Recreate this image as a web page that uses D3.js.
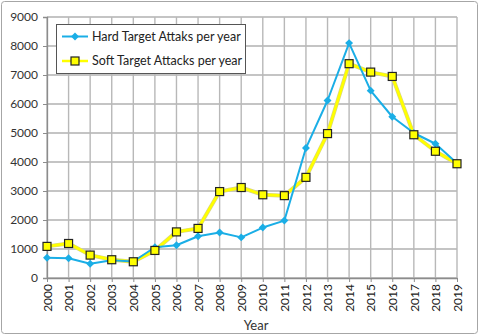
<!DOCTYPE html>
<html>
<head>
<meta charset="utf-8">
<script src="https://cdn.jsdelivr.net/npm/d3@7"></script>
<style>
  body { margin: 0; background: #fff; }
  #chart { width: 480px; height: 336px; }
</style>
</head>
<body>
<div id="chart"></div>
<script>
// Data
const years = ['2000', '2001', '2002', '2003', '2004', '2005', '2006', '2007', '2008', '2009',
               '2010', '2011', '2012', '2013', '2014', '2015', '2016', '2017', '2018', '2019'];
const hardAttacks = [700, 680, 490, 610, 570, 1060, 1130, 1440, 1570, 1400,
                     1740, 1980, 4480, 6120, 8100, 6460, 5560, 5000, 4630, 3960];
const softAttacks = [1090, 1190, 790, 630, 560, 950, 1590, 1710, 2980, 3120,
                     2870, 2840, 3470, 4980, 7390, 7100, 6950, 4940, 4370, 3940];
const yTicks = [0, 1000, 2000, 3000, 4000, 5000, 6000, 7000, 8000, 9000];
const seriesNames = ['Hard Target Attaks per year', 'Soft Target Attacks per year'];

const width = 480, height = 336;
const margin = { top: 17, right: 23, bottom: 58, left: 47 };
const font = 'Lato, "Open Sans", sans-serif';

const svg = d3.select('#chart').append('svg')
    .attr('width', width)
    .attr('height', height);

// outer frame
svg.append('rect')
    .attr('x', 1.5).attr('y', 1.5)
    .attr('width', width - 4).attr('height', height - 4)
    .attr('rx', 3)
    .attr('fill', '#fff')
    .attr('stroke', '#a6a6a6');

const x = d3.scalePoint()
    .domain(years)
    .range([margin.left, width - margin.right]);

const y = d3.scaleLinear()
    .domain([0, 9000])
    .range([height - margin.bottom, margin.top]);

// horizontal grid
svg.append('g')
    .selectAll('line')
    .data(yTicks)
    .join('line')
    .attr('x1', margin.left).attr('x2', width - margin.right)
    .attr('y1', d => y(d)).attr('y2', d => y(d))
    .attr('stroke', '#b0b0b0')
    .attr('stroke-width', 1.4);

// vertical grid
svg.append('g')
    .selectAll('line')
    .data(years)
    .join('line')
    .attr('x1', d => x(d)).attr('x2', d => x(d))
    .attr('y1', y(9000)).attr('y2', y(0))
    .attr('stroke', '#b8b8b8')
    .attr('stroke-width', 1.4);

// y axis
const yAxis = svg.append('g')
    .attr('transform', `translate(${margin.left},0)`)
    .call(d3.axisLeft(y).tickValues(yTicks).tickSize(4).tickPadding(5).tickFormat(d3.format('d')));
yAxis.select('.domain').attr('stroke', '#8c8c8c').attr('stroke-width', 1.3);
yAxis.selectAll('.tick line').attr('stroke', '#8c8c8c');
yAxis.selectAll('text')
    .attr('font-family', font).attr('font-size', 12).attr('fill', '#333');

// x axis
const xAxis = svg.append('g')
    .attr('transform', `translate(0,${y(0)})`)
    .call(d3.axisBottom(x).tickSize(4).tickSizeOuter(0));
xAxis.select('.domain').attr('stroke', '#8c8c8c').attr('stroke-width', 1.3);
xAxis.selectAll('.tick line').attr('stroke', '#8c8c8c');
xAxis.selectAll('text')
    .attr('font-family', font).attr('font-size', 12).attr('fill', '#1a1a1a')
    .attr('transform', 'rotate(-90)')
    .attr('text-anchor', 'end')
    .attr('dx', '-6px')
    .attr('dy', '0.35em')
    .attr('y', 0);

svg.append('text')
    .attr('x', (margin.left + width - margin.right) / 2 + 4)
    .attr('y', 330)
    .attr('text-anchor', 'middle')
    .attr('font-family', font).attr('font-size', 13).attr('fill', '#333')
    .text('Year');

const line = d3.line()
    .x((d, i) => x(years[i]))
    .y(d => y(d));

// soft target series (drawn below the hard series, with a faint edge)
svg.append('path')
    .datum(softAttacks)
    .attr('d', line)
    .attr('fill', 'none')
    .attr('stroke', '#d6d48e')
    .attr('stroke-width', 4)
    .attr('stroke-linejoin', 'round');
svg.append('path')
    .datum(softAttacks)
    .attr('d', line)
    .attr('fill', 'none')
    .attr('stroke', '#ffff00')
    .attr('stroke-width', 2.8)
    .attr('stroke-linejoin', 'round');

// hard target series
svg.append('path')
    .datum(hardAttacks)
    .attr('d', line)
    .attr('fill', 'none')
    .attr('stroke', '#1aaee6')
    .attr('stroke-width', 2)
    .attr('stroke-linejoin', 'round');

const diamond = d3.symbol().type(d3.symbolDiamond2).size(40);

svg.append('g')
    .selectAll('path')
    .data(hardAttacks)
    .join('path')
    .attr('transform', (d, i) => `translate(${x(years[i])},${y(d)})`)
    .attr('d', diamond)
    .attr('fill', '#1aaee6');

svg.append('g')
    .selectAll('rect')
    .data(softAttacks)
    .join('rect')
    .attr('x', (d, i) => x(years[i]) - 4)
    .attr('y', d => y(d) - 4)
    .attr('width', 8).attr('height', 8)
    .attr('fill', '#ffff00')
    .attr('stroke', '#222')
    .attr('stroke-width', 1.2);

// legend
const legend = svg.append('g');
legend.append('rect')
    .attr('x', 56.5).attr('y', 24.5)
    .attr('width', 189).attr('height', 49)
    .attr('fill', '#fff')
    .attr('stroke', '#555');

const rowY = [36.5, 61];
legend.append('line')
    .attr('x1', 62).attr('x2', 88).attr('y1', rowY[0]).attr('y2', rowY[0])
    .attr('stroke', '#1aaee6').attr('stroke-width', 2);
legend.append('path')
    .attr('transform', `translate(75,${rowY[0]})`)
    .attr('d', diamond)
    .attr('fill', '#1aaee6');
legend.append('line')
    .attr('x1', 62).attr('x2', 88).attr('y1', rowY[1]).attr('y2', rowY[1])
    .attr('stroke', '#ffff00').attr('stroke-width', 2.5);
legend.append('rect')
    .attr('x', 71).attr('y', rowY[1] - 4)
    .attr('width', 8).attr('height', 8)
    .attr('fill', '#ffff00')
    .attr('stroke', '#222')
    .attr('stroke-width', 1.2);

legend.selectAll('text.label')
    .data(seriesNames)
    .join('text')
    .attr('class', 'label')
    .attr('x', 92)
    .attr('y', (d, i) => rowY[i])
    .attr('dy', '0.35em')
    .attr('font-family', font).attr('font-size', 12.5).attr('fill', '#222')
    .text(d => d);
</script>
</body>
</html>
